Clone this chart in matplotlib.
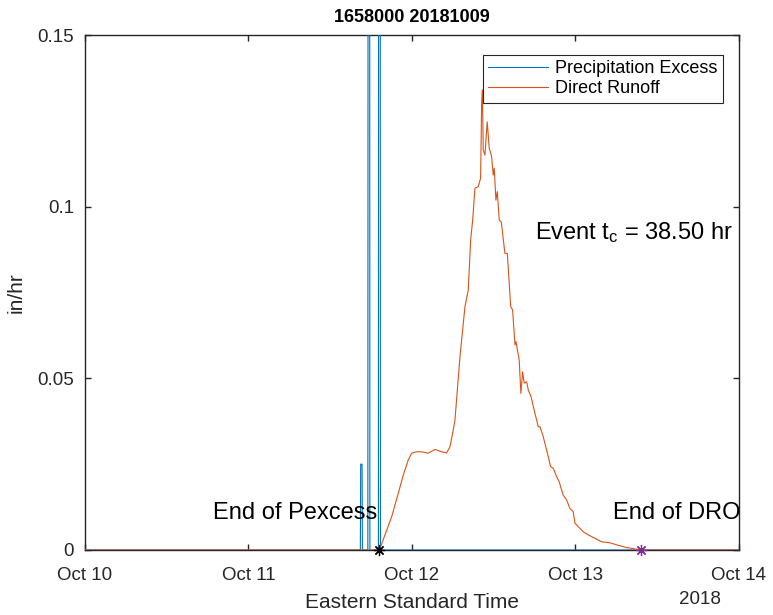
import numpy as np
import matplotlib
matplotlib.use("Agg")
import matplotlib.pyplot as plt
import matplotlib.dates as mdates

plt.rcParams['font.family'] = ['Liberation Sans', 'DejaVu Sans']
plt.rcParams['mathtext.fontset'] = 'custom'
plt.rcParams['mathtext.rm'] = 'Liberation Sans'
plt.rcParams['mathtext.it'] = 'Liberation Sans'

# ---- data (hours after 2018-10-10 00:00 EST) ----
title = "1658000 20181009"
pex_hours = [0.0, 40.45, 40.50, 40.70, 40.75, 41.55, 41.60, 41.80, 41.85, 43.10, 43.15, 43.35, 43.40, 96.0]
pex_vals = [0.0, 0.0, 0.025, 0.025, 0.0, 0.0, 0.30, 0.30, 0.0, 0.0, 0.30, 0.30, 0.0, 0.0]

dro_hours = [0.0, 43.25, 44.06, 45.05, 46.02, 46.75, 47.49, 47.99, 48.72, 49.45, 50.42,
             51.41, 52.39, 53.12, 53.61, 54.10, 54.35, 55.08, 55.81, 56.30, 56.65,
             56.95, 57.28, 57.77, 58.12, 58.27, 58.38, 58.50, 58.75, 59.09, 59.38,
             59.74, 59.97, 60.12, 60.37, 60.56, 60.85, 61.15, 61.69, 62.03, 62.17,
             62.53, 62.82, 63.16, 63.31, 63.79, 64.04, 64.29, 64.52, 64.88, 65.11,
             65.51, 66.10, 66.58, 66.83, 67.32, 68.05, 68.40, 68.78, 69.28, 69.67,
             69.87, 70.25, 70.75, 71.24, 71.72, 71.97, 72.46, 73.19, 73.93, 74.91,
             75.89, 77.11, 78.10, 79.56, 81.75, 96.0]
dro_vals = [0.0, 0.0, 0.0044, 0.0097, 0.0165, 0.0218, 0.0262, 0.0282, 0.0286, 0.0286, 0.0282,
            0.0293, 0.0286, 0.0283, 0.0301, 0.0350, 0.0379, 0.0563, 0.0709, 0.0757, 0.0903,
            0.0961, 0.1054, 0.1058, 0.1083, 0.1301, 0.1340, 0.1165, 0.1150, 0.1247, 0.1170,
            0.1146, 0.1092, 0.1112, 0.1019, 0.1044, 0.0961, 0.0956, 0.0864, 0.0864, 0.0825,
            0.0709, 0.0699, 0.0597, 0.0607, 0.0553, 0.0456, 0.0519, 0.0486, 0.0490, 0.0466,
            0.0447, 0.0398, 0.0359, 0.0359, 0.0330, 0.0272, 0.0243, 0.0238, 0.0213, 0.0199,
            0.0184, 0.0160, 0.0146, 0.0121, 0.0112, 0.0078, 0.0068, 0.0053, 0.0044, 0.0034,
            0.0024, 0.0021, 0.0015, 0.0007, 0.0, 0.0]

end_pex_hour = 43.25
end_dro_hour = 81.75
tc_text = "Event t$_{c}$ = 38.50 hr"
yticks = [0, 0.05, 0.1, 0.15]
ytick_labels = ["0", "0.05", "0.1", "0.15"]

base = np.datetime64('2018-10-10T00:00')
def to_dt(h):
    return base + (np.round(np.asarray(h) * 60)).astype('timedelta64[m]')

tc_pex = to_dt(pex_hours)
tc_dro = to_dt(dro_hours)

BLUE = '#0072BD'
ORANGE = '#D95319'
PURPLE = '#7E2F8E'
TXT = '#262626'

fig = plt.figure(figsize=(7.73, 6.15), dpi=100)
ax = fig.add_axes([85/773, 1-550/615, (738.5-85)/773, (550-35)/615])

ax.plot(tc_pex, pex_vals, color=BLUE, lw=0.8, label='Precipitation Excess', zorder=3)
ax.plot(tc_dro, dro_vals, color=ORANGE, lw=0.8, label='Direct Runoff', zorder=3)
ax.plot(to_dt([end_pex_hour]), [0], marker=(8, 2, 0), color='black', ms=8, mew=0.9, ls='none',
        zorder=4, clip_on=False)
ax.plot(to_dt([end_dro_hour]), [0], marker=(8, 2, 0), color=PURPLE, ms=8, mew=0.9, ls='none',
        zorder=4, clip_on=False)

ax.set_xlim(np.datetime64('2018-10-10T00:00'), np.datetime64('2018-10-14T00:00'))
ax.set_ylim(0, 0.15)
ax.xaxis.set_major_locator(mdates.DayLocator())
ax.xaxis.set_major_formatter(mdates.DateFormatter('%b %d'))
ax.set_yticks(yticks)
ax.set_yticklabels(ytick_labels)

ax.tick_params(direction='in', top=True, right=True, length=4, width=1,
               labelsize=13.5, colors=TXT)
ax.tick_params(axis='x', pad=12)
ax.tick_params(axis='y', pad=8)
for s in ax.spines.values():
    s.set_color(TXT)
    s.set_linewidth(1.0)

ax.text(to_dt(43.0), 0.0108, "End of Pexcess", ha='right', va='center', fontsize=17, color='black')
ax.text(to_dt(77.55), 0.0108, "End of DRO", ha='left', va='center', fontsize=17, color='black')
ax.text(to_dt(66.1), 0.0926, tc_text, ha='left', va='center', fontsize=17, color='black')

ax.set_title(title, fontsize=13, fontweight='bold', color='black', pad=9)
ax.set_ylabel("in/hr", fontsize=15, color=TXT, labelpad=8)
ax.set_xlabel("Eastern Standard Time", fontsize=15, color=TXT, labelpad=7)
fig.text(700/773, 1-600/615, "2018", ha='center', va='center', fontsize=13.5, color=TXT)

leg = ax.legend(loc='upper right', bbox_to_anchor=((723-85)/653.5, (550-55)/515),
                borderaxespad=0, fancybox=False, fontsize=13, handlelength=3.3,
                handletextpad=0.4, borderpad=0.3, labelspacing=0.15, framealpha=1)
leg.get_frame().set_edgecolor(TXT)
leg.get_frame().set_linewidth(0.8)

fig.savefig("out.png", dpi=100)
